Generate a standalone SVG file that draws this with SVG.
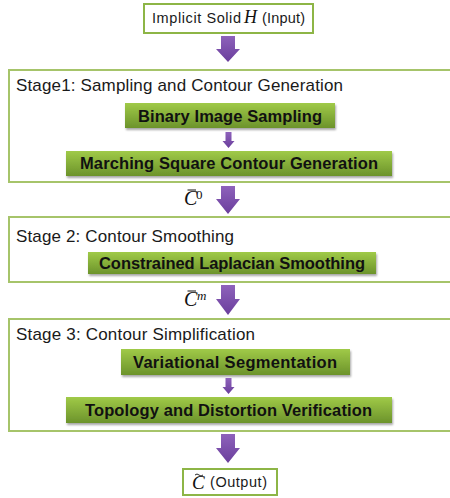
<svg xmlns="http://www.w3.org/2000/svg" width="450" height="498" viewBox="0 0 450 498">
<defs>
<linearGradient id="g" x1="0" y1="0" x2="0" y2="1">
<stop offset="0" stop-color="#a0ca48"/>
<stop offset="1" stop-color="#6c932b"/>
</linearGradient>
<linearGradient id="p" x1="0" y1="0" x2="0" y2="1">
<stop offset="0" stop-color="#8e62bb"/>
<stop offset="1" stop-color="#6a3e9c"/>
</linearGradient>
<filter id="sh" x="-10%" y="-20%" width="120%" height="160%">
<feGaussianBlur in="SourceAlpha" stdDeviation="1.2"/>
<feOffset dx="1" dy="2" result="b"/>
<feComponentTransfer><feFuncA type="linear" slope="0.35"/></feComponentTransfer>
<feMerge><feMergeNode/><feMergeNode in="SourceGraphic"/></feMerge>
</filter>
</defs>
<style>
.stage{fill:#fff;stroke:#a6c46a;stroke-width:2}
.io{fill:#fff;stroke:#8db546;stroke-width:2}
.step{fill:url(#g);filter:url(#sh)}
.arr{fill:url(#p)}
.h{font-family:"Liberation Sans",Arial,sans-serif;font-size:17px;fill:#1a1a1a}
.b{font-family:"Liberation Sans",Arial,sans-serif;font-size:16.5px;font-weight:bold;fill:#111}
.s{font-family:"Liberation Sans",Arial,sans-serif;font-size:14.5px;fill:#1a1a1a}
.m{font-family:"Liberation Serif","Times New Roman",serif;font-style:italic;fill:#111}
</style>

<g id="input">
<rect class="io" x="144" y="4" width="169" height="29"/>
<text class="s" x="152" y="22.5" textLength="89">Implicit Solid</text>
<text class="m" x="244" y="23" font-size="18">H</text>
<text class="s" x="262" y="22.5" textLength="43">(Input)</text>
</g>

<g id="stage1">
<rect class="stage" x="9" y="70" width="450" height="112"/>
<text class="h" x="16" y="91" textLength="327">Stage1: Sampling and Contour Generation</text>
</g>
<g id="binary">
<rect class="step" x="125" y="103" width="210" height="25"/>
<text class="b" x="230" y="121.5" text-anchor="middle" textLength="184">Binary Image Sampling</text>
</g>
<g id="marching">
<rect class="step" x="66" y="151" width="326" height="25"/>
<text class="b" x="229" y="169" text-anchor="middle" textLength="298">Marching Square Contour Generation</text>
</g>

<g id="stage2">
<rect class="stage" x="9" y="217" width="450" height="65"/>
<text class="h" x="16" y="242" textLength="218">Stage 2: Contour Smoothing</text>
</g>
<g id="laplacian">
<rect class="step" x="88" y="252" width="288" height="22"/>
<text class="b" x="232" y="268.5" text-anchor="middle" textLength="266">Constrained Laplacian Smoothing</text>
</g>

<g id="stage3">
<rect class="stage" x="9" y="319" width="450" height="112"/>
<text class="h" x="16" y="340" textLength="239">Stage 3: Contour Simplification</text>
</g>
<g id="variational">
<rect class="step" x="121" y="349" width="229" height="26"/>
<text class="b" x="235" y="368" text-anchor="middle" textLength="204">Variational Segmentation</text>
</g>
<g id="topology">
<rect class="step" x="66" y="397" width="326" height="26"/>
<text class="b" x="228.5" y="416" text-anchor="middle" textLength="287">Topology and Distortion Verification</text>
</g>

<g id="output">
<rect class="io" x="183" y="469" width="94" height="26"/>
<text class="m" x="192" y="489" font-size="19">C</text>
<path d="M195 475 q2 -2 4 0 t4 0" fill="none" stroke="#111" stroke-width="0.9"/>
<text class="s" x="210" y="487" textLength="57">(Output)</text>
</g>

<g id="connectors">
<path class="arr" d="M221 36 H235 V49 H240 L228 62 L216 49 H221 Z"/>
<path class="arr" d="M225.5 132 H231.5 V141 H234.5 L228.5 148 L222.5 141 H225.5 Z"/>
<path class="arr" d="M221 186 H235 V199 H240 L228 214 L216 199 H221 Z"/>
<path class="arr" d="M221 285 H235 V299 H240 L228 315 L216 299 H221 Z"/>
<path class="arr" d="M225.5 378 H231.5 V387 H234.5 L228.5 394 L222.5 387 H225.5 Z"/>
<path class="arr" d="M221 434 H235 V448 H240 L228 463 L216 448 H221 Z"/>
</g>

<g id="edge-labels">
<text class="m" x="184" y="205" font-size="20">C</text>
<path d="M187.5 190 H196" stroke="#111" stroke-width="1"/>
<text font-family="Liberation Serif,serif" font-size="13" x="196" y="199" fill="#111">0</text>
<text class="m" x="184" y="306" font-size="20">C</text>
<path d="M187.5 291 H196" stroke="#111" stroke-width="1"/>
<text class="m" x="197" y="300" font-size="13">m</text>
</g>
</svg>
